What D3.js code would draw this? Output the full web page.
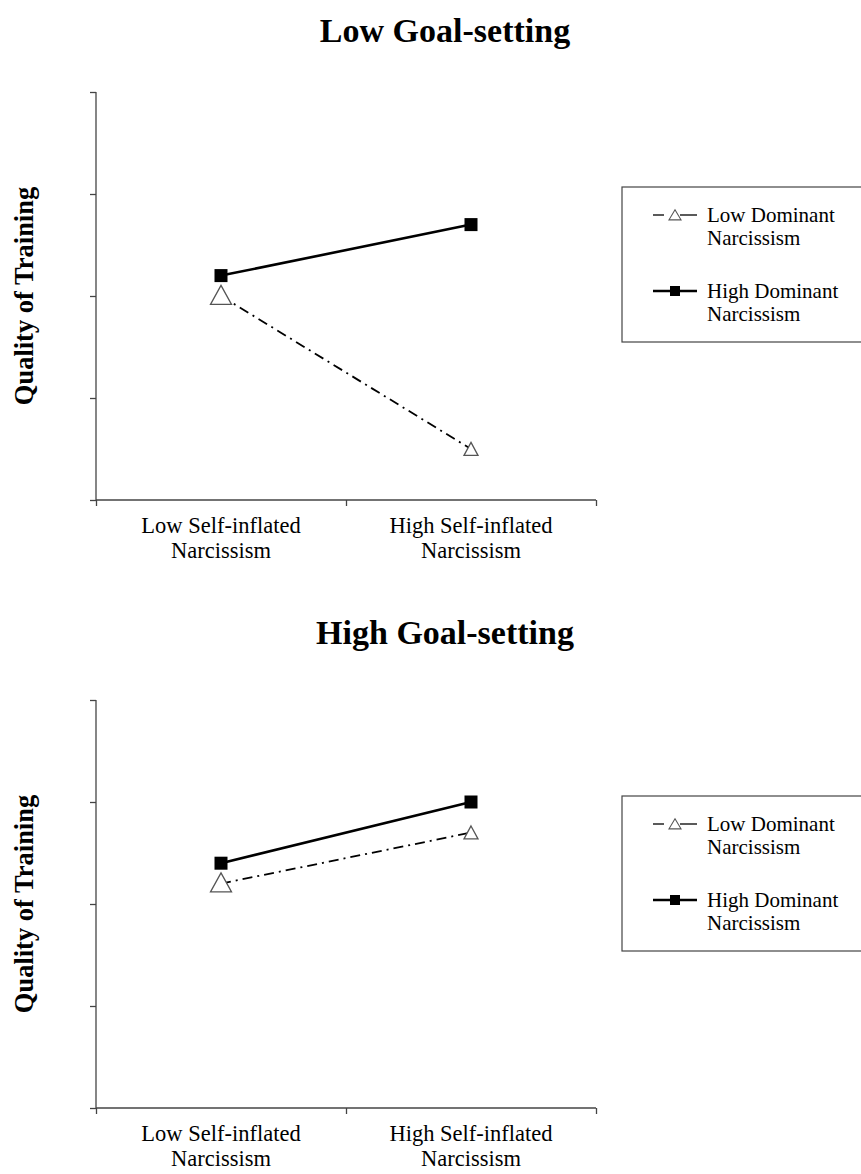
<!DOCTYPE html>
<html>
<head>
<meta charset="utf-8">
<script src="https://cdn.jsdelivr.net/npm/d3@7"></script>
<style>
  body { margin: 0; background: #fff; }
  svg { display: block; }
  text { font-family: "Liberation Serif", "Times New Roman", serif; fill: #000; }
</style>
</head>
<body>
<svg id="chart" width="861" height="1174"></svg>
<script>
// ---- data ----
const categories = ["Low Self-inflated Narcissism", "High Self-inflated Narcissism"];
const categoryLines = [["Low Self-inflated", "Narcissism"], ["High Self-inflated", "Narcissism"]];
const panelTitles = ["Low Goal-setting", "High Goal-setting"];
const seriesNames = ["Low Dominant Narcissism", "High Dominant Narcissism"];
const seriesLegendLines = [["Low Dominant", "Narcissism"], ["High Dominant", "Narcissism"]];
const yTicks = [0, 1, 2, 3, 4];
const yAxisTitle = "Quality of Training";
// values per panel: [Low Dominant, High Dominant], each across categories
const lowGoalLowDominant = [2.0, 0.5];
const lowGoalHighDominant = [2.2, 2.7];
const highGoalLowDominant = [2.2, 2.7];
const highGoalHighDominant = [2.4, 3.0];

const panels = [
  { title: panelTitles[0], series: [lowGoalLowDominant, lowGoalHighDominant], top: 92, titleY: 42, legendTop: 187 },
  { title: panelTitles[1], series: [highGoalLowDominant, highGoalHighDominant], top: 700, titleY: 644, legendTop: 796 }
];

const svg = d3.select("#chart");
const xLeft = 96, xRight = 596, plotH = 408;

function triPath(cx, cy, w, h) {
  const top = cy - h * 2 / 3, bot = cy + h / 3;
  return `M${cx},${top}L${cx + w / 2},${bot}L${cx - w / 2},${bot}Z`;
}

panels.forEach(p => {
  const g = svg.append("g");
  const y = d3.scaleLinear().domain([0, 4]).range([p.top + plotH, p.top]);
  const xBand = d3.scaleBand().domain(categories).range([xLeft, xRight]).paddingInner(0).paddingOuter(0);
  const xc = c => xBand(c) + xBand.bandwidth() / 2;

  // title
  g.append("text").attr("x", 445).attr("y", p.titleY).attr("text-anchor", "middle")
    .style("font-size", "34px").style("font-weight", "bold").text(p.title);

  // y axis
  const yAxis = d3.axisLeft(y).tickValues(yTicks).tickSize(6).tickFormat("");
  const ya = g.append("g").attr("transform", `translate(${xLeft},0)`).call(yAxis);
  ya.select(".domain").attr("d", `M0,${p.top}V${p.top + plotH}`);
  ya.selectAll("path,line").attr("stroke", "#444").attr("stroke-width", 1.3);

  // x axis
  const xTickPos = d3.scaleLinear().domain([0, 2]).range([xLeft, xRight]);
  const xa = g.append("g").attr("transform", `translate(0,${p.top + plotH})`)
    .call(d3.axisBottom(xTickPos).tickValues([0, 1, 2]).tickSize(6).tickFormat("").tickSizeOuter(0));
  xa.select(".domain").attr("d", `M${xLeft},0H${xRight}`);
  xa.selectAll("path,line").attr("stroke", "#444").attr("stroke-width", 1.3);

  // category labels
  categories.forEach((c, i) => {
    const t = g.append("text").attr("x", xc(c)).attr("y", p.top + plotH + 33)
      .attr("text-anchor", "middle").style("font-size", "22.5px");
    categoryLines[i].forEach((ln, k) => {
      t.append("tspan").attr("x", xc(c)).attr("dy", k === 0 ? 0 : 25).text(ln);
    });
  });

  // y axis title
  const midY = p.top + plotH / 2;
  g.append("text").attr("transform", `translate(33,${midY}) rotate(-90)`).attr("text-anchor", "middle")
    .style("font-size", "26.5px").style("font-weight", "bold").text(yAxisTitle);

  // lines
  const line = d3.line().x((d, i) => xc(categories[i])).y(d => y(d));
  g.append("path").datum(p.series[0]).attr("d", line).attr("fill", "none")
    .attr("stroke", "#000").attr("stroke-width", 1.8).attr("stroke-dasharray", "10,5,2,5");
  g.append("path").datum(p.series[1]).attr("d", line).attr("fill", "none")
    .attr("stroke", "#000").attr("stroke-width", 2.6);

  // triangle markers (Low Dominant)
  const triSizes = [[21, 19], [14, 13]];
  p.series[0].forEach((v, i) => {
    g.append("path").attr("d", triPath(xc(categories[i]), y(v) + 2, triSizes[i][0], triSizes[i][1]))
      .attr("fill", "#fff").attr("stroke", "#555").attr("stroke-width", 1.3);
  });
  // square markers (High Dominant)
  p.series[1].forEach((v, i) => {
    g.append("rect").attr("x", xc(categories[i]) - 6.5).attr("y", y(v) - 6.5)
      .attr("width", 13).attr("height", 13).attr("fill", "#000");
  });

  // legend
  const lt = p.legendTop;
  g.append("rect").attr("x", 622).attr("y", lt).attr("width", 245).attr("height", 155)
    .attr("fill", "#fff").attr("stroke", "#444").attr("stroke-width", 1.2);
  const ly1 = lt + 28, ly2 = lt + 104;
  g.append("line").attr("x1", 653).attr("x2", 664).attr("y1", ly1).attr("y2", ly1).attr("stroke", "#000").attr("stroke-width", 1.3);
  g.append("line").attr("x1", 680).attr("x2", 697).attr("y1", ly1).attr("y2", ly1).attr("stroke", "#000").attr("stroke-width", 1.3);
  g.append("path").attr("d", triPath(675, ly1 + 1.5, 12, 10)).attr("fill", "#fff").attr("stroke", "#555").attr("stroke-width", 1.1);
  g.append("line").attr("x1", 653).attr("x2", 697).attr("y1", ly2).attr("y2", ly2).attr("stroke", "#000").attr("stroke-width", 2.6);
  g.append("rect").attr("x", 675 - 5).attr("y", ly2 - 5).attr("width", 10).attr("height", 10).attr("fill", "#000");

  [ly1, ly2].forEach((ly, si) => {
    const t = g.append("text").attr("x", 707).attr("y", ly + 7).style("font-size", "21px");
    seriesLegendLines[si].forEach((ln, k) => {
      t.append("tspan").attr("x", 707).attr("dy", k === 0 ? 0 : 23).text(ln);
    });
  });
});
</script>
</body>
</html>
